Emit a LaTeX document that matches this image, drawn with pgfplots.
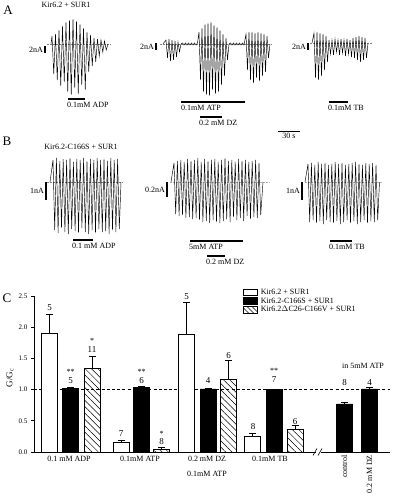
\documentclass[border=0pt]{standalone}
\usepackage{fontspec}
\setmainfont{Liberation Serif}
\usepackage{pgfplots}
\pgfplotsset{compat=1.18}
\usetikzlibrary{patterns.meta}
\newcommand\fs{\fontsize{8}{9}\selectfont}
\newcommand\fn{\fontsize{9}{10}\selectfont}
\newcommand\fl{\fontsize{13}{14}\selectfont}
\begin{document}
\begin{tikzpicture}
\useasboundingbox (0pt,0pt) rectangle (392pt,500pt);
% ---------------- bar chart (panel C) ----------------
\begin{axis}[at={(34pt,48pt)}, anchor=south west, scale only axis,
  width=356pt, height=156pt, xmin=34, xmax=390, ymin=0, ymax=2.5,
  axis x line*=bottom, axis y line*=left,
  axis line style={-, line width=0.6pt},
  xtick=\empty, ytick={0,0.5,1,1.5,2,2.5},
  yticklabel style={font=\fontsize{7}{8}\selectfont},
  /pgf/number format/.cd, fixed, fixed zerofill, precision=1, assume math mode=true, /pgfplots/.cd,
  tick align=outside, major tick length=3pt, tick style={line width=0.6pt, black},
  clip=false,
  legend style={at={(axis cs:243,2.62)}, anchor=north west, draw=none, fill=none,
    font=\fs, row sep=0.8pt, inner sep=0pt,
    nodes={inner xsep=3pt, inner ysep=0.5pt}},
  legend cell align=left,
  error bars/y dir=plus, error bars/y explicit,
  error bars/error mark options={rotate=90, mark size=3.5pt, line width=0.6pt},
  error bars/error bar style={line width=0.6pt},
]
\addplot[forget plot, black, line width=0.7pt, dash pattern=on 3pt off 2.2pt] coordinates {(34,1) (390,1)};
\addplot[ybar, bar width=16pt, bar shift=0pt, draw=black, fill=white, line width=0.6pt,
  legend image code/.code={\draw[draw=black, fill=white, line width=0.6pt] (0pt,-3pt) rectangle (14pt,3.5pt);}]
  coordinates {(49.5,1.90) +- (0,0.30) (121,0.15) +- (0,0.04) (186.5,1.88) +- (0,0.52) (252.5,0.25) +- (0,0.05)};
\addlegendentry{Kir6.2 + SUR1}
\addplot[ybar, bar width=16pt, bar shift=0pt, draw=black, fill=black, line width=0.6pt,
  legend image code/.code={\draw[draw=black, fill=black, line width=0.6pt] (0pt,-3pt) rectangle (14pt,3.5pt);}]
  coordinates {(70.5,1.02) +- (0,0.01) (141.5,1.04) +- (0,0.01) (208,1.01) +- (0,0.01) (274,1.00) +- (0,0.0) (344.5,0.77) +- (0,0.03) (369.5,1.01) +- (0,0.03)};
\addlegendentry{Kir6.2-C166S + SUR1}
\addplot[ybar, bar width=16pt, bar shift=0pt, draw=black, line width=0.6pt,
  pattern={Lines[angle=-45, distance=4.5pt, line width=0.5pt]},
  legend image code/.code={\draw[draw=black, line width=0.6pt, pattern={Lines[angle=-45, distance=3.5pt, line width=0.5pt]}] (0pt,-3pt) rectangle (14pt,3.5pt);}]
  coordinates {(92,1.34) +- (0,0.20) (161.5,0.05) +- (0,0.02) (228.5,1.16) +- (0,0.31) (295,0.37) +- (0,0.05)};
\addlegendentry{Kir6.2\(\Delta\)C26-C166V + SUR1}
\end{axis}
% axis break
\fill[white] (315.5pt,45pt) rectangle (320.5pt,51pt);
\draw[line width=0.6pt] (313pt,44.5pt) -- (317pt,51.5pt);
\draw[line width=0.6pt] (318pt,44.5pt) -- (322pt,51.5pt);
% ---------------- overlay: traces and text (pixel coordinates) ----------------
\begin{axis}[at={(0pt,500pt)}, anchor=north west, scale only axis,
  width=392pt, height=500pt, xmin=0, xmax=392, ymin=0, ymax=500, y dir=reverse,
  hide axis, clip=false]
% ---- panel A ----
\node[font=\fl] at (axis cs:8,10) {A};
\node[font=\fs] at (axis cs:66,5) {Kir6.2 + SUR1};
% baselines
\addplot[gray, line width=0.4pt, dash pattern=on 1.5pt off 1.5pt] coordinates {(47,44) (111,44)};
\addplot[gray, line width=0.4pt, dash pattern=on 1.5pt off 1.5pt] coordinates {(160,44) (272,44)};
\addplot[gray, line width=0.4pt, dash pattern=on 1.5pt off 1.5pt] coordinates {(310,43) (372,43)};
% trace A1
\addplot[black, line width=0.45pt] coordinates {(51,44) (52,36) (53.75,74) (55.5,34) (57.25,80) (59,30) (60.75,86) (62.5,26) (64.25,82) (66,22) (67.75,92) (69.5,20) (71.25,95) (73,19) (74.75,88) (76.5,21) (78.25,94) (80,24) (81.75,85) (83.5,28) (85.25,90) (87,32) (88.75,72) (90.5,35) (92.25,66) (94,38) (95.75,62) (97.5,39) (99.25,56) (101,40) (102.75,52) (104.5,41) (106.25,50) (108,44)};
% trace A2
\addplot[black, line width=0.45pt] coordinates {(163,44) (166,40) (167.5,58) (169,39) (170.5,61) (172,40) (173.5,60) (175,41) (176.5,57) (178,42) (179.5,52) (181,44) (182.5,43) (184,45) (185.5,43) (187,45) (188.5,43) (190,45) (191.5,43) (193,45) (194.5,43) (196,45) (197.5,43) (199,32) (200.5,80) (202,28) (203.5,92) (205,24) (206.5,95) (208,23) (209.5,96) (211,22) (212.5,90) (214,25) (215.5,94) (217,27) (218.5,92) (220,30) (221.5,85) (223,34) (224.5,76) (226,38) (227.5,60) (229,44) (230.5,43) (232,45) (233.5,43) (235,45) (236.5,43) (238,45) (239.5,43) (241,45) (242.5,43) (244,45) (246,34) (247.5,70) (249,32) (250.5,80) (252,32) (253.5,83) (255,33) (256.5,78) (258,32) (259.5,81) (261,33) (262.5,76) (264,34) (265.5,72) (267,36) (268.5,58) (270,44)};
% trace A3
\addplot[black, line width=0.45pt] coordinates {(312,43) (314,33) (315.5,78) (317,32) (318.5,80) (320,33) (321.5,76) (323,34) (324.5,70) (326,36) (327.5,62) (329,40) (330.5,54) (332,40) (333.5,55) (335,39) (336.5,52) (338,40) (339.5,55) (341,39) (342.5,53) (344,40) (345.5,56) (347,39) (348.5,54) (350,40) (351.5,57) (353,38) (354.5,58) (356,37) (357.5,60) (359,36) (360.5,62) (362,37) (363.5,60) (365,38) (366.5,58) (368,43)};
% scale bars A
\addplot[black, line width=1.3pt] coordinates {(45,46) (45,53)};
\addplot[black, line width=1.3pt] coordinates {(156,43) (156,50)};
\addplot[black, line width=1.3pt] coordinates {(308,43) (308,50)};
\node[font=\fs, anchor=east, inner sep=0pt] at (axis cs:43,49.5) {2nA};
\node[font=\fs, anchor=east, inner sep=0pt] at (axis cs:154,46.5) {2nA};
\node[font=\fs, anchor=east, inner sep=0pt] at (axis cs:306,46.5) {2nA};
% application bars A
\addplot[black, line width=1.5pt] coordinates {(68,99) (85,99)};
\addplot[black, line width=1.5pt] coordinates {(181,102) (245,102)};
\addplot[black, line width=1.5pt] coordinates {(200,117) (222,117)};
\addplot[black, line width=1.5pt] coordinates {(329,102) (348,102)};
\addplot[black, line width=1.0pt] coordinates {(278,131) (300,131)};
\node[font=\fs, anchor=north west, inner sep=0pt] at (axis cs:67,102) {0.1mM ADP};
\node[font=\fs, anchor=north west, inner sep=0pt] at (axis cs:181,105) {0.1mM ATP};
\node[font=\fs, anchor=north west, inner sep=0pt] at (axis cs:199,120) {0.2 mM DZ};
\node[font=\fs, anchor=north west, inner sep=0pt] at (axis cs:328,105) {0.1mM TB};
\node[font=\fs, anchor=north, inner sep=0pt] at (axis cs:289,133) {30 s};
% ---- panel B ----
\node[font=\fl] at (axis cs:7,141) {B};
\node[font=\fs] at (axis cs:81,147) {Kir6.2-C166S + SUR1};
\addplot[gray, line width=0.4pt, dash pattern=on 1.5pt off 1.5pt] coordinates {(47,182) (123,182)};
\addplot[gray!60, line width=0.4pt, dash pattern=on 1.5pt off 1.5pt] coordinates {(170,182) (270,182)};
\addplot[gray!60, line width=0.4pt, dash pattern=on 1.5pt off 1.5pt] coordinates {(305,182) (383,182)};
% trace B1
\addplot[black, line width=0.45pt] coordinates {(50,182) (53,160) (54.7,230) (56.4,158) (58.1,233) (59.8,161) (61.5,228) (63.2,159) (64.9,232) (66.6,160) (68.3,234) (70,158) (71.7,229) (73.4,162) (75.1,231) (76.8,159) (78.5,233) (80.2,160) (81.9,228) (83.6,158) (85.3,232) (87,161) (88.7,234) (90.4,159) (92.1,230) (93.8,160) (95.5,233) (97.2,158) (98.9,229) (100.6,160) (102.3,232) (104,159) (105.7,231) (107.4,161) (109.1,234) (110.8,158) (112.5,230) (114.2,160) (115.9,232) (117.6,159) (119.3,229) (121,182)};
% trace B2
\addplot[black, line width=0.45pt] coordinates {(171,182) (174,163) (175.7,214) (177.4,161) (179.1,216) (180.8,160) (182.5,215) (184.2,162) (185.9,218) (187.6,159) (189.3,217) (191,161) (192.7,219) (194.4,160) (196.1,218) (197.8,158) (199.5,220) (201.2,162) (202.9,222) (204.6,159) (206.3,221) (208,161) (209.7,223) (211.4,160) (213.1,220) (214.8,159) (216.5,222) (218.2,162) (219.9,223) (221.6,160) (223.3,221) (225,158) (226.7,219) (228.4,161) (230.1,222) (231.8,160) (233.5,217) (235.2,162) (236.9,220) (238.6,159) (240.3,218) (242,161) (243.7,221) (245.4,160) (247.1,216) (248.8,162) (250.5,219) (252.2,161) (253.9,217) (255.6,160) (257.3,218) (259,163) (260.7,215) (263,182)};
% trace B3
\addplot[black, line width=0.45pt] coordinates {(305,182) (308,164) (309.7,222) (311.4,163) (313.1,220) (314.8,165) (316.5,223) (318.2,162) (319.9,221) (321.6,164) (323.3,224) (325,163) (326.7,220) (328.4,165) (330.1,222) (331.8,164) (333.5,223) (335.2,162) (336.9,221) (338.6,164) (340.3,224) (342,163) (343.7,222) (345.4,165) (347.1,220) (348.8,164) (350.5,223) (352.2,163) (353.9,221) (355.6,162) (357.3,224) (359,164) (360.7,222) (362.4,165) (364.1,220) (365.8,163) (367.5,223) (369.2,164) (370.9,221) (372.6,163) (374.3,222) (376,165) (377.7,220) (379.5,182)};
% scale bars B
\addplot[black, line width=1.3pt] coordinates {(46,182) (46,200)};
\addplot[black, line width=1.3pt] coordinates {(167,182) (167,197)};
\addplot[black, line width=1.3pt] coordinates {(302,182) (302,200)};
\node[font=\fs, anchor=east, inner sep=0pt] at (axis cs:44,191) {1nA};
\node[font=\fs, anchor=east, inner sep=0pt] at (axis cs:165,189.5) {0.2nA};
\node[font=\fs, anchor=east, inner sep=0pt] at (axis cs:300,191) {1nA};
% application bars B
\addplot[black, line width=1.5pt] coordinates {(73,240) (93,240)};
\addplot[black, line width=1.5pt] coordinates {(190,241) (243,241)};
\addplot[black, line width=1.5pt] coordinates {(207,256) (225,256)};
\addplot[black, line width=1.5pt] coordinates {(330,241) (352,241)};
\node[font=\fs, anchor=north west, inner sep=0pt] at (axis cs:72,243) {0.1 mM ADP};
\node[font=\fs, anchor=north west, inner sep=0pt] at (axis cs:189,244) {5mM ATP};
\node[font=\fs, anchor=north west, inner sep=0pt] at (axis cs:206,259) {0.2 mM DZ};
\node[font=\fs, anchor=north west, inner sep=0pt] at (axis cs:329,244) {0.1mM TB};
% ---- panel C text ----
\node[font=\fl] at (axis cs:7,298) {C};
\node[font=\fn, rotate=90] at (axis cs:10,378) {G/G\textsubscript{c}};
\node[font=\fn] at (axis cs:49.5,308) {5};
\node[font=\fn] at (axis cs:70.5,381) {5};
\node[font=\fs] at (axis cs:70.5,372) {**};
\node[font=\fn] at (axis cs:92,350) {11};
\node[font=\fs] at (axis cs:92,341) {*};
\node[font=\fn] at (axis cs:121,434) {7};
\node[font=\fn] at (axis cs:141.5,381) {6};
\node[font=\fs] at (axis cs:141.5,372) {**};
\node[font=\fn] at (axis cs:161.5,442) {8};
\node[font=\fs] at (axis cs:161.5,434) {*};
\node[font=\fn] at (axis cs:186.5,297) {5};
\node[font=\fn] at (axis cs:208,381) {4};
\node[font=\fn] at (axis cs:228.5,356) {6};
\node[font=\fn] at (axis cs:253,427) {8};
\node[font=\fn] at (axis cs:274,380) {7};
\node[font=\fs] at (axis cs:274,371) {**};
\node[font=\fn] at (axis cs:295,422) {6};
\node[font=\fn] at (axis cs:344.5,383) {8};
\node[font=\fn] at (axis cs:369.5,383) {4};
\node[font=\fs] at (axis cs:363,366) {in 5mM ATP};
% x category labels
\node[font=\fs] at (axis cs:69,459) {0.1 mM ADP};
\node[font=\fs] at (axis cs:140,459) {0.1mM ATP};
\node[font=\fs] at (axis cs:207,459) {0.2 mM DZ};
\node[font=\fs] at (axis cs:207,474) {0.1mM ATP};
\node[font=\fs] at (axis cs:270,459) {0.1mM TB};
\node[font=\fs, rotate=90, anchor=east, inner sep=0pt] at (axis cs:344.5,455) {control};
\node[font=\fs, rotate=90, anchor=east, inner sep=0pt] at (axis cs:369.5,455) {0.2 mM DZ};
\end{axis}
\end{tikzpicture}
\end{document}
